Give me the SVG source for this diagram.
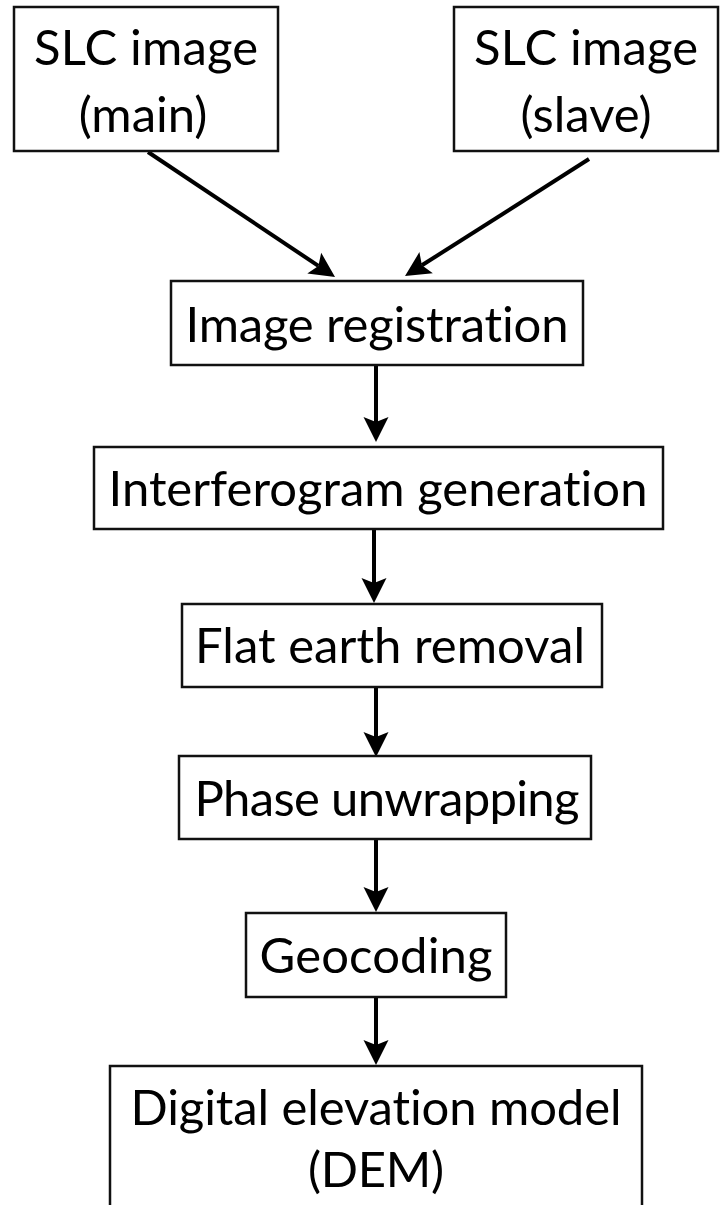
<svg xmlns="http://www.w3.org/2000/svg" width="720" height="1205" viewBox="0 0 720 1205">
  <style>
    .box { fill: #ffffff; stroke: #111111; stroke-width: 2.5; }
    .lbl { font-family: "Lato", "Open Sans", "Liberation Sans", sans-serif; font-size: 49px; fill: #000000; text-anchor: middle; font-variant-ligatures: none; font-feature-settings: "liga" 0, "dlig" 0; }
    .edge { stroke: #000000; stroke-width: 4; fill: none; marker-end: url(#head); }
  </style>
  <defs>
    <marker id="head" markerUnits="userSpaceOnUse" markerWidth="30" markerHeight="30" refX="5" refY="0" orient="auto" overflow="visible">
      <path d="M0,-12.5 L25,0 L0,12.5 L5,0 Z" fill="#000000"/>
    </marker>
  </defs>
  <rect x="0" y="0" width="720" height="1205" fill="#ffffff"/>

  <g id="connectors">
    <line class="edge" x1="148" y1="152" x2="318.4" y2="265.9"/>
    <line class="edge" x1="589" y1="159" x2="421.9" y2="265.3"/>
    <line class="edge" x1="376" y1="365" x2="376" y2="422"/>
    <line class="edge" x1="374" y1="529" x2="374" y2="583"/>
    <line class="edge" x1="376" y1="687" x2="376" y2="737"/>
    <line class="edge" x1="376" y1="839" x2="376" y2="892"/>
    <line class="edge" x1="376" y1="997" x2="376" y2="1045"/>
  </g>

  <g id="slc-main">
    <rect class="box" x="14" y="7" width="264" height="144"/>
    <text class="lbl" x="146" y="65" textLength="224">SLC image</text>
    <text class="lbl" x="143" y="132">(main)</text>
  </g>

  <g id="slc-slave">
    <rect class="box" x="454" y="7" width="264" height="144"/>
    <text class="lbl" x="586" y="65" textLength="224">SLC image</text>
    <text class="lbl" x="586" y="132">(slave)</text>
  </g>

  <g id="registration">
    <rect class="box" x="171" y="281" width="412" height="84"/>
    <text class="lbl" x="377" y="342" textLength="383">Image registration</text>
  </g>

  <g id="interferogram">
    <rect class="box" x="94" y="447" width="569" height="82"/>
    <text class="lbl" x="378" y="506" textLength="539">Interferogram generation</text>
  </g>

  <g id="flat-earth">
    <rect class="box" x="182" y="604" width="420" height="83"/>
    <text class="lbl" x="390" y="663" textLength="390">Flat earth removal</text>
  </g>

  <g id="unwrapping">
    <rect class="box" x="179" y="756" width="412" height="83"/>
    <text class="lbl" x="387" y="816" textLength="385">Phase unwrapping</text>
  </g>

  <g id="geocoding">
    <rect class="box" x="246" y="913" width="260" height="84"/>
    <text class="lbl" x="376" y="973" textLength="233">Geocoding</text>
  </g>

  <g id="dem">
    <rect class="box" x="110" y="1066" width="532" height="150"/>
    <text class="lbl" x="376" y="1125" textLength="491">Digital elevation model</text>
    <text class="lbl" x="376" y="1187" textLength="136">(DEM)</text>
  </g>
</svg>
